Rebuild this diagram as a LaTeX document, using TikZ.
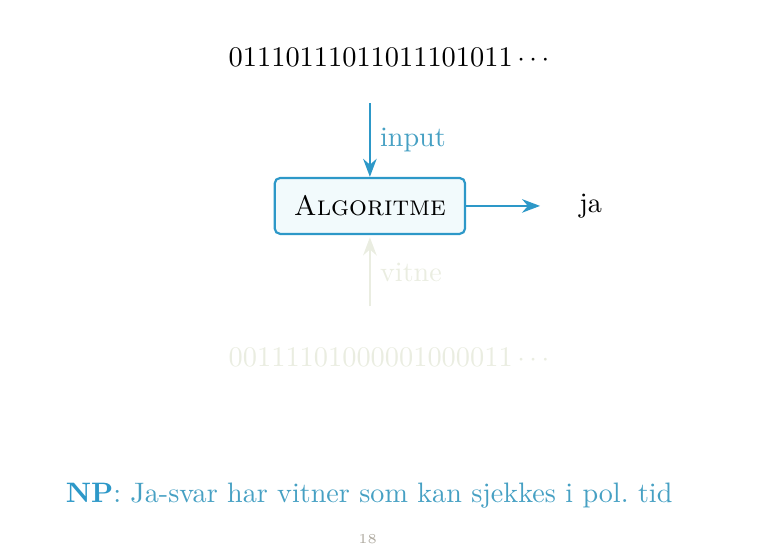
\documentclass[tikz,border=0pt]{standalone}
\usepackage{tikz}
\usetikzlibrary{arrows.meta, positioning, calc}
\definecolor{npblue}{RGB}{45,152,200}
\definecolor{nptext}{RGB}{70,160,195}
\definecolor{npfaint}{RGB}{234,237,225}
\definecolor{npfill}{RGB}{242,250,252}
\definecolor{npgray}{RGB}{175,170,160}

\begin{document}
\begin{tikzpicture}[font=\fontsize{10.3}{12.5}\selectfont]
    \useasboundingbox (-4.76,-4.36) rectangle (5.02,2.65);
    \node (algo) [draw=npblue, fill=npfill, thick, rounded corners=2pt, minimum width=2.45cm, minimum height=0.72cm] {\textsc{Algoritme}};
    \node (input) [above=1.29 of algo, xshift=0.245cm, font=\fontsize{10.4}{12.5}\selectfont] {01110111011011101011$\,\cdots$};
    \node (witness) [below=1.32 of algo, xshift=0.245cm, text=npfaint, font=\fontsize{10.4}{12.5}\selectfont] {00111101000001000011$\,\cdots$};
    \coordinate (intop) at ($(algo.north)+(0,0.95)$);
    \coordinate (witbot) at ($(algo.south)+(0,-0.92)$);
    \coordinate (yesend) at ($(algo.center)+(2.19,0)$);
    \node (yes) at ($(algo.center)+(2.84,0)$) {ja};

   \draw[-{Stealth}, thick, npblue] (intop) -- (algo.north) node[midway, right, text=nptext] {input};
   \draw[-{Stealth}, thick, npblue] (algo.east) -- (yesend);
   \draw[-{Stealth}, thick, npfaint] (witbot) -- ($(algo.south)+(0,-0.03)$) node[midway, right, text=npfaint] {vitne};

   \node (np) at (-0.01,-3.73) [text=nptext] {\textcolor{npblue}{\textbf{NP}}: Ja-svar har vitner som kan sjekkes i pol.\ tid};
   \node (page) at (-0.03,-4.29) [text=npgray, font=\tiny] {18};
\end{tikzpicture}
\end{document}
